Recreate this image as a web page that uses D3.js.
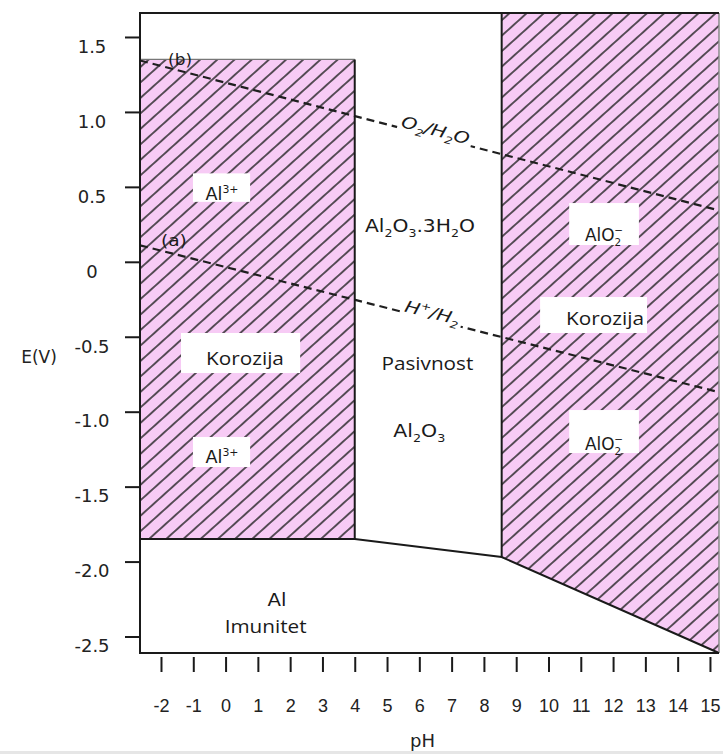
<!DOCTYPE html>
<html><head><meta charset="utf-8">
<script src="https://cdn.jsdelivr.net/npm/d3@7"></script>
<style>html,body{margin:0;padding:0;background:#fff;} svg{display:block}</style>
</head><body>
<svg id="chart" width="723" height="754"></svg>
<script>
// ---- data ----
const phTicks = [-2,-1,0,1,2,3,4,5,6,7,8,9,10,11,12,13,14,15];
const eTicks = [1.5,1.0,0.5,0,-0.5,-1.0,-1.5,-2.0,-2.5];
const eTickLabels = ["1.5","1.0","0.5","0","-0.5","-1.0","-1.5","-2.0","-2.5"];
const phRange = [-2.65, 15.28];
const eRange = [-2.61, 1.66];
const corrosionAcid = [[-2.65,1.35],[4,1.35],[4,-1.85],[-2.65,-1.85]];
const corrosionAlkaline = [[8.55,1.66],[15.28,1.66],[15.28,-2.61],[8.55,-1.97]];
const immunityBoundary = [[-2.65,-1.85],[4,-1.85],[8.55,-1.97],[15.28,-2.61]];
const acidEdge = [[4,1.35],[4,-1.85]];
const acidTop = [[-2.65,1.35],[4,1.35]];
const alkalineEdge = [[8.55,1.66],[8.55,-1.97]];
const lineO2 = [[-2.65,1.343],[15.28,0.343]];
const lineH2 = [[-2.65,0.11],[15.28,-0.87]];

// label boxes in data coords [ph0, ph1, eTop, eBottom]
const labelBoxes = [
  [-1.01, 0.76, 0.59, 0.40],
  [-1.38, 2.31, -0.475, -0.742],
  [-1.01, 0.76, -1.169, -1.369],
  [10.64, 12.80, 0.392, 0.112],
  [9.74, 13.05, -0.235, -0.475],
  [10.64, 12.80, -0.989, -1.276]
];
// labels: parts, ph (center), e (baseline), font, size, target width
const labels = [
  {parts:[["Al"],["3+","sup"]], ph:-0.11, e:0.412, font:"DejaVu Sans", size:17, w:33},
  {parts:[["Korozija"]], ph:0.60, e:-0.689, font:"Open Sans", size:19, w:78},
  {parts:[["Al"],["3+","sup"]], ph:-0.11, e:-1.342, font:"DejaVu Sans", size:17, w:33},
  {parts:[["AlO"],["2","sub"],["\u2212","sup",-7]], ph:11.72, e:0.139, font:"DejaVu Sans", size:17, w:45},
  {parts:[["Korozija"]], ph:11.75, e:-0.422, font:"Open Sans", size:19, w:78},
  {parts:[["AlO"],["2","sub"],["\u2212","sup",-7]], ph:11.72, e:-1.256, font:"DejaVu Sans", size:17, w:45},
  {parts:[["Al"],["2","sub"],["O"],["3","sub"],[".3H"],["2","sub"],["O"]], ph:6.02, e:0.199, font:"DejaVu Sans", size:17, w:110},
  {parts:[["Pasivnost"]], ph:6.25, e:-0.722, font:"Open Sans", size:19, w:92},
  {parts:[["Al"],["2","sub"],["O"],["3","sub"]], ph:6.0, e:-1.169, font:"DejaVu Sans", size:17, w:52},
  {parts:[["Al"]], ph:1.59, e:-2.296, font:"DejaVu Sans", size:18, w:19},
  {parts:[["Imunitet"]], ph:1.24, e:-2.477, font:"Open Sans", size:19, w:82},
  {parts:[["(b)"]], ph:-1.41, e:1.313, font:"DejaVu Sans", size:16, w:24},
  {parts:[["(a)"]], ph:-1.60, e:0.105, font:"DejaVu Sans", size:16, w:26}
];
const lineLabels = [
  {parts:[["O"],["2","sub"],["/H"],["2","sub"],["O"]], line:lineO2, ph:6.45, w:70},
  {parts:[["H"],["+","sup"],["/H"],["2","sub"]], line:lineH2, ph:6.35, w:56}
];

// ---- drawing ----
const svg = d3.select("#chart");
const x = d3.scaleLinear().domain(phRange).range([140,719]);
const y = d3.scaleLinear().domain(eRange).range([653,13]);
const line = d3.line().x(d=>x(d[0])).y(d=>y(d[1]));
const ink = "#1a1a1a";

svg.append("rect").attr("width",723).attr("height",754).attr("fill","#fff");
svg.append("rect").attr("x",0).attr("y",751).attr("width",723).attr("height",3).attr("fill","#e6e6e6");

const defs = svg.append("defs");
const sp = 11.5;
const pat = defs.append("pattern").attr("id","hatch").attr("patternUnits","userSpaceOnUse")
  .attr("width",sp).attr("height",sp).attr("patternTransform","rotate(-42)");
pat.append("rect").attr("width",sp).attr("height",sp).attr("fill","#f7cbf5");
pat.append("line").attr("x1",-1).attr("x2",sp+1).attr("y1",sp/2).attr("y2",sp/2)
  .attr("stroke","#262626").attr("stroke-width",1.5);

svg.append("path").attr("d", line(corrosionAcid)+"Z").attr("fill","url(#hatch)");
svg.append("path").attr("d", line(corrosionAlkaline)+"Z").attr("fill","url(#hatch)");

// dashed water lines
[lineO2, lineH2].forEach(l => {
  svg.append("path").attr("d", line(l)).attr("fill","none").attr("stroke","#1f1f1f")
    .attr("stroke-width",2.2).attr("stroke-dasharray","8,5");
});

// boundaries
svg.append("path").attr("d", line(acidTop)).attr("fill","none").attr("stroke","#777").attr("stroke-width",1.2);
[immunityBoundary, acidEdge, alkalineEdge].forEach(l => {
  svg.append("path").attr("d", line(l)).attr("fill","none").attr("stroke",ink).attr("stroke-width",2);
});

function rich(sel, parts, base) {
  let shift = 0;
  parts.forEach(([t, m, dx]) => {
    const target = m==="sub" ? base*0.28 : m==="sup" ? -base*0.42 : 0;
    const ts = sel.append("tspan").text(t).attr("dy", target-shift)
      .attr("font-size", m ? base*0.62 : base);
    if (dx) ts.attr("dx", dx);
    shift = target;
  });
}
function fitText(g, t, w) {
  const n = t.node().getComputedTextLength();
  if (n > 0) t.attr("transform", `scale(${w/n},1)`);
}

// label boxes
labelBoxes.forEach(b => {
  svg.append("rect").attr("x", x(b[0])).attr("y", y(b[2]))
    .attr("width", x(b[1]) - x(b[0])).attr("height", y(b[3]) - y(b[2]))
    .attr("fill","#fff");
});

labels.forEach(l => {
  const g = svg.append("g").attr("transform", `translate(${x(l.ph)},${y(l.e)})`);
  const t = g.append("text").attr("text-anchor","middle").attr("font-family", l.font)
    .attr("font-size", l.size).attr("fill", ink);
  rich(t, l.parts, l.size);
  fitText(g, t, l.w);
});

lineLabels.forEach(l => {
  const [p0, p1] = l.line;
  const ang = Math.atan2(y(p1[1]) - y(p0[1]), x(p1[0]) - x(p0[0])) * 180 / Math.PI;
  const e = p0[1] + (p1[1]-p0[1]) * (l.ph - p0[0]) / (p1[0]-p0[0]);
  const g = svg.append("g").attr("transform", `translate(${x(l.ph)},${y(e)}) rotate(${ang})`);
  g.append("rect").attr("x", -l.w/2 - 3).attr("y", -17).attr("width", l.w + 6).attr("height", 20).attr("fill","#fff");
  const t = g.append("text").attr("text-anchor","middle").attr("y",-1)
    .attr("font-family","DejaVu Sans").attr("font-size",16).attr("font-style","italic").attr("fill", ink);
  rich(t, l.parts, 16);
  fitText(g, t, l.w);
});

// frame
svg.append("line").attr("x1",719).attr("x2",719).attr("y1",13).attr("y2",653).attr("stroke","#888").attr("stroke-width",1.5);
svg.append("path").attr("d", `M719,13H140V653H719`).attr("fill","none").attr("stroke",ink).attr("stroke-width",2);

// axes
const yAxis = svg.append("g").attr("transform","translate(140,0)")
  .call(d3.axisLeft(y).tickValues(eTicks).tickSize(15).tickSizeOuter(0).tickFormat((d,i)=>eTickLabels[i]));
yAxis.select(".domain").remove();
yAxis.selectAll(".tick line").attr("stroke",ink).attr("stroke-width",2);
yAxis.selectAll(".tick text").attr("x",-48).attr("y",9.5).attr("text-anchor","middle")
  .attr("font-family","DejaVu Sans").attr("font-size",18).attr("fill","#222");

const xAxis = svg.append("g").attr("transform","translate(0,657)")
  .call(d3.axisBottom(x).tickValues(phTicks).tickSize(15).tickSizeOuter(0).tickFormat(d => String(d)));
xAxis.select(".domain").remove();
xAxis.selectAll(".tick line").attr("stroke",ink).attr("stroke-width",2);
xAxis.selectAll(".tick text").attr("y",42)
  .attr("font-family","'Liberation Sans Narrow', 'Liberation Sans', Arial, sans-serif").attr("font-size",18).attr("fill","#222");

svg.append("text").attr("x",39).attr("y",363).attr("text-anchor","middle")
  .attr("font-family","DejaVu Sans").attr("font-size",17).attr("fill","#222").text("E(V)");
svg.append("text").attr("x",422.5).attr("y",747).attr("text-anchor","middle")
  .attr("font-family","DejaVu Sans").attr("font-size",18).attr("fill","#222").text("pH");
</script>
</body></html>
